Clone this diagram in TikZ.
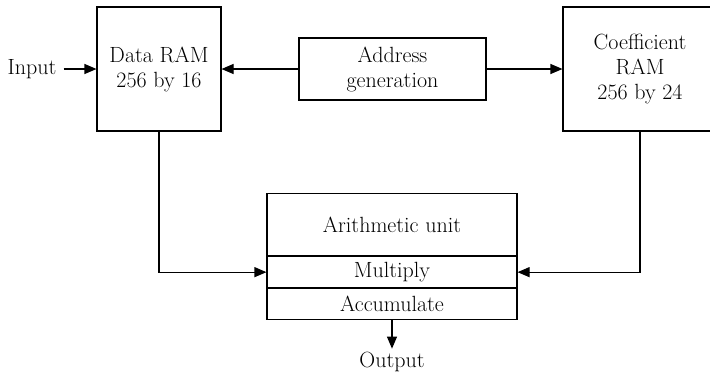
\documentclass[tikz,border=0pt]{standalone}
\usetikzlibrary{arrows.meta}
\begin{document}
\begin{tikzpicture}[x=1pt,y=-1pt,
  txt/.style={font=\fontsize{22}{25}\selectfont, align=center},
  box/.style={txt, draw, line width=1.1pt, inner sep=0pt},
  arr/.style={-{Triangle[length=12pt,width=10pt]}, line width=1.1pt}]
\clip (0,0) rectangle (710,378);
\node[box, minimum width=124pt, minimum height=124pt] (dram) at (159,69) {Data RAM\\256 by 16};
\node[box, minimum width=187pt, minimum height=62pt] (addr) at (392.5,69) {Address\\generation};
\node[box, minimum width=154pt, minimum height=124pt] (cram) at (640,69) {Coefficient\\RAM\\256 by 24};
\node[box, minimum width=250pt, minimum height=62pt, anchor=north] (au) at (392,193) {Arithmetic unit};
\node[box, minimum width=250pt, minimum height=31pt, anchor=north] (mul) at (au.south) {Multiply};
\node[box, minimum width=250pt, minimum height=31pt, anchor=north] (acc) at (mul.south) {Accumulate};
\node[txt, inner sep=3pt] (in) at (32,69) {Input};
\node[txt] (out) at (392,362) {Output};
\draw[arr] ([xshift=4pt]in.east) -- (in.east -| dram.west);
\draw[arr] (addr.west) -- (dram.east);
\draw[arr] (addr.east) -- (cram.west);
\draw[arr] (dram.south) |- (mul.west);
\draw[arr] (cram.south) |- (mul.east);
\draw[arr] (acc.south) -- (out.north);
\end{tikzpicture}
\end{document}
